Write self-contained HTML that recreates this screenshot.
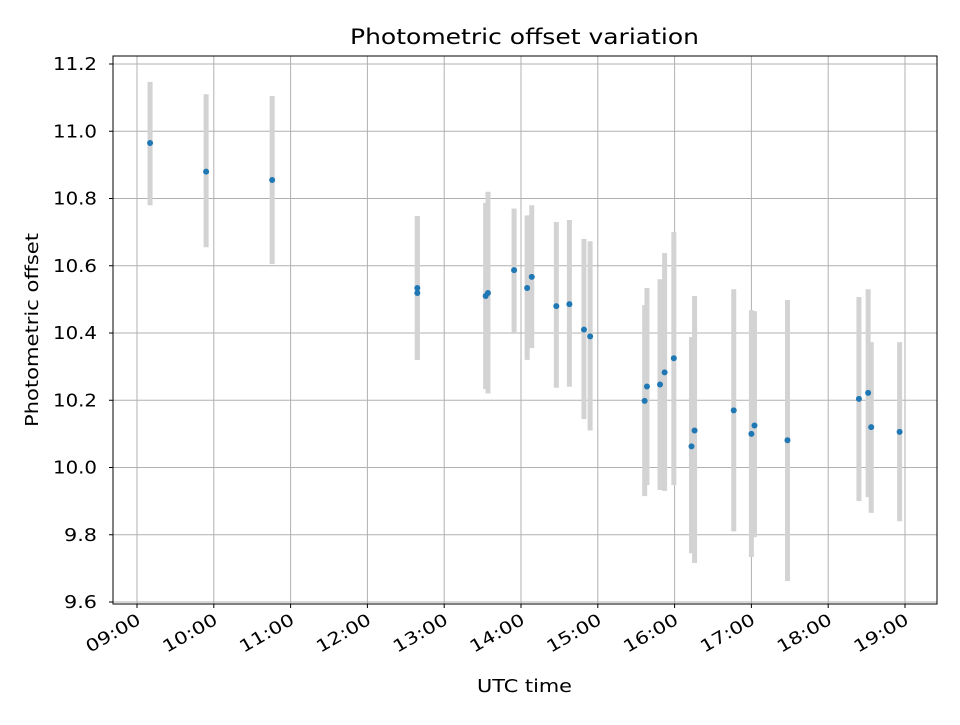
<!DOCTYPE html>
<html><head><meta charset="utf-8"><style>
body{margin:0;background:#fff;}
svg text{font-family:"DejaVu Sans","Liberation Sans",sans-serif;fill:#000;}
</style></head><body>
<svg id="chart" width="960" height="720" xmlns="http://www.w3.org/2000/svg">
<rect width="960" height="720" fill="#fff"/>
<g id="grid"></g>
<g id="bars"></g>
<g id="pts"></g>
<rect x="113" y="56" width="824" height="548" fill="none" stroke="#000" stroke-width="1"/>
<g id="axes"></g>
<text x="350" y="44" font-size="21" textLength="349" lengthAdjust="spacingAndGlyphs">Photometric offset variation</text>
<text x="477" y="692" font-size="18" textLength="95" lengthAdjust="spacingAndGlyphs">UTC time</text>
<text transform="translate(38,427) rotate(-90)" font-size="18" textLength="194" lengthAdjust="spacingAndGlyphs">Photometric offset</text>
</svg>
<script>
const times=[9.17,9.90,10.76,12.65,12.65,13.54,13.57,13.91,14.08,14.14,14.46,14.63,14.82,14.90,15.61,15.64,15.81,15.87,15.99,16.22,16.26,16.77,17.0,17.04,17.47,18.40,18.52,18.56,18.93];
const values=[10.965,10.88,10.855,10.534,10.519,10.51,10.519,10.587,10.534,10.567,10.48,10.486,10.41,10.39,10.198,10.241,10.247,10.283,10.325,10.063,10.11,10.17,10.10,10.125,10.081,10.204,10.222,10.12,10.106];
const lowers=[10.78,10.655,10.605,10.32,10.32,10.233,10.22,10.40,10.32,10.355,10.237,10.24,10.144,10.11,9.915,9.948,9.933,9.93,9.948,9.745,9.716,9.81,9.734,9.793,9.662,9.90,9.912,9.865,9.84];
const uppers=[11.147,11.11,11.105,10.748,10.748,10.787,10.82,10.77,10.75,10.78,10.73,10.736,10.68,10.673,10.483,10.534,10.56,10.638,10.70,10.388,10.51,10.53,10.468,10.465,10.498,10.507,10.53,10.373,10.373];
const yTicks=[9.6,9.8,10.0,10.2,10.4,10.6,10.8,11.0,11.2];
const xTicks=[9,10,11,12,13,14,15,16,17,18,19];
const xLabels=["09:00","10:00","11:00","12:00","13:00","14:00","15:00","16:00","17:00","18:00","19:00"];
const NS="http://www.w3.org/2000/svg";
function xs(h){return 137+(h-9)*76.8;}
function ys(v){return 467.5-(v-10)*336.25;}
function mk(tag,attrs,parent){const e=document.createElementNS(NS,tag);for(const k in attrs)e.setAttribute(k,attrs[k]);parent.appendChild(e);return e;}
const grid=document.getElementById('grid'),axes=document.getElementById('axes'),bars=document.getElementById('bars'),pts=document.getElementById('pts');
yTicks.forEach(t=>{const y=ys(t);
 const g=mk('line',{x1:113,x2:937,y1:y,y2:y,stroke:'#b0b0b0','stroke-width':1},grid);
 
 
 mk('line',{x1:109,x2:113,y1:y,y2:y,stroke:'#000'},axes);
 const l=mk('text',{x:53,y:y+6,'font-size':18,textLength:44,lengthAdjust:'spacingAndGlyphs'},axes);l.textContent=t.toFixed(1);
 if(t<10){l.setAttribute('x',64);l.setAttribute('textLength',33);}
 
 
});
xTicks.forEach((t,i)=>{const x=xs(t);
 const g=mk('line',{x1:x,x2:x,y1:56,y2:604,stroke:'#b0b0b0','stroke-width':1},grid);
 
 
 mk('line',{x1:x,x2:x,y1:604,y2:608,stroke:'#000'},axes);
 const l=mk('text',{x:-60,y:0,'font-size':17,textLength:60,lengthAdjust:'spacingAndGlyphs',transform:`translate(${x+5},${623}) rotate(-30)`},axes);l.textContent=xLabels[i];
 
 
});
times.forEach((t,i)=>{const x=xs(t);
 const b=mk('line',{x1:x,x2:x,y1:ys(lowers[i]),y2:ys(uppers[i]),stroke:'#d3d3d3','stroke-width':5},bars);
 
 
 const p=mk('circle',{cx:x,cy:ys(values[i]),r:3,fill:'#1f77b4'},pts);
 
 
});
</script>
</body></html>
